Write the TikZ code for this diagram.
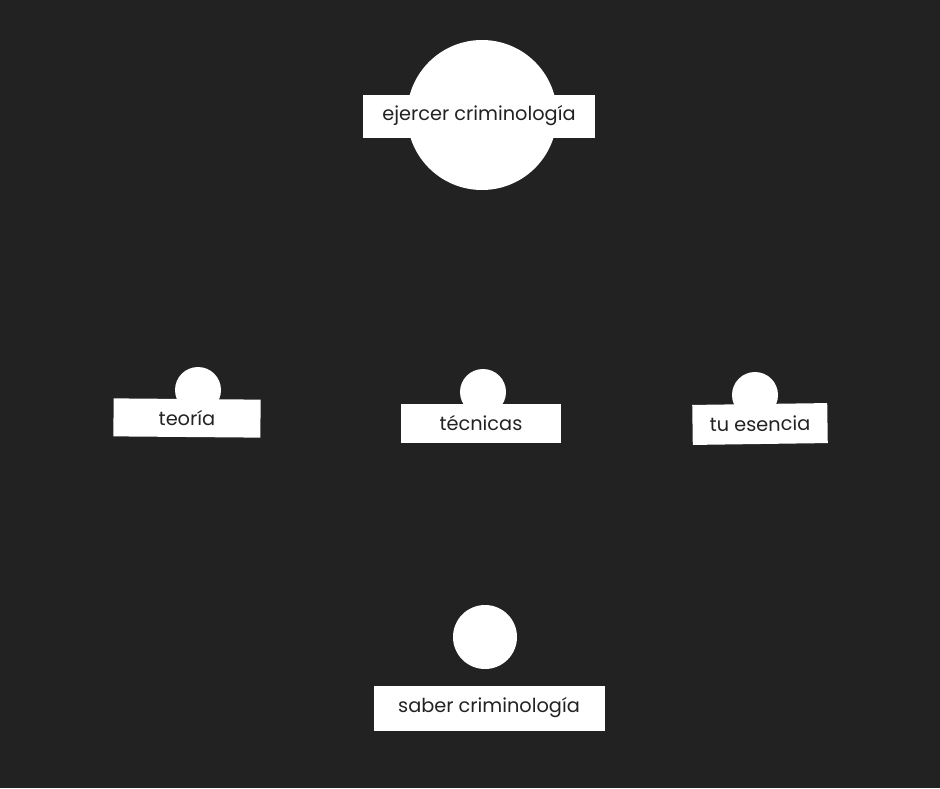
\documentclass[tikz,border=0pt]{standalone}
\usepackage{fontspec}
\setmainfont{Poppins}
\usetikzlibrary{backgrounds}
\definecolor{bgdark}{HTML}{222222}
\begin{document}
\begin{tikzpicture}
  [x=0.02cm,y=-0.02cm,every node/.style={fill=white,inner sep=0pt},
   dot/.style={circle},
   tag/.style={rectangle,text=bgdark,font=\fontsize{11}{13}\selectfont},
   link/.style={draw=white,line width=2.2pt}]
  \fill[bgdark] (0,0) rectangle (940,788);
  % circles
  \node[dot,minimum size=150*0.02cm] (top) at (482,115) {};
  \node[dot,minimum size=46*0.02cm] (cteo) at (198,390) {};
  \node[dot,minimum size=46*0.02cm] (ctec) at (483,392) {};
  \node[dot,minimum size=46*0.02cm] (cesen) at (755,395) {};
  \node[dot,minimum size=64*0.02cm] (csaber) at (485,637) {};
  % labels
  \node[tag,minimum width=232*0.02cm,minimum height=43*0.02cm] (ejercer) at (479,116) {ejercer criminología};
  \node[tag,minimum width=147*0.02cm,minimum height=38*0.02cm,rotate=-0.5] (teoria) at (187,418) {teoría};
  \node[tag,minimum width=160*0.02cm,minimum height=39*0.02cm] (tecnicas) at (481,423) {técnicas};
  \node[tag,minimum width=135*0.02cm,minimum height=40*0.02cm,rotate=0.8] (esencia) at (760,424) {tu esencia};
  \node[tag,minimum width=231*0.02cm,minimum height=45*0.02cm] (saber) at (489,708) {saber criminología};
  \begin{scope}[on background layer]
  \foreach \source/\dest in {top/cteo,top/ctec,top/cesen,teoria/csaber,tecnicas/csaber}
    \draw[link] (\source) -- (\dest);
  \end{scope}
\end{tikzpicture}
\end{document}
